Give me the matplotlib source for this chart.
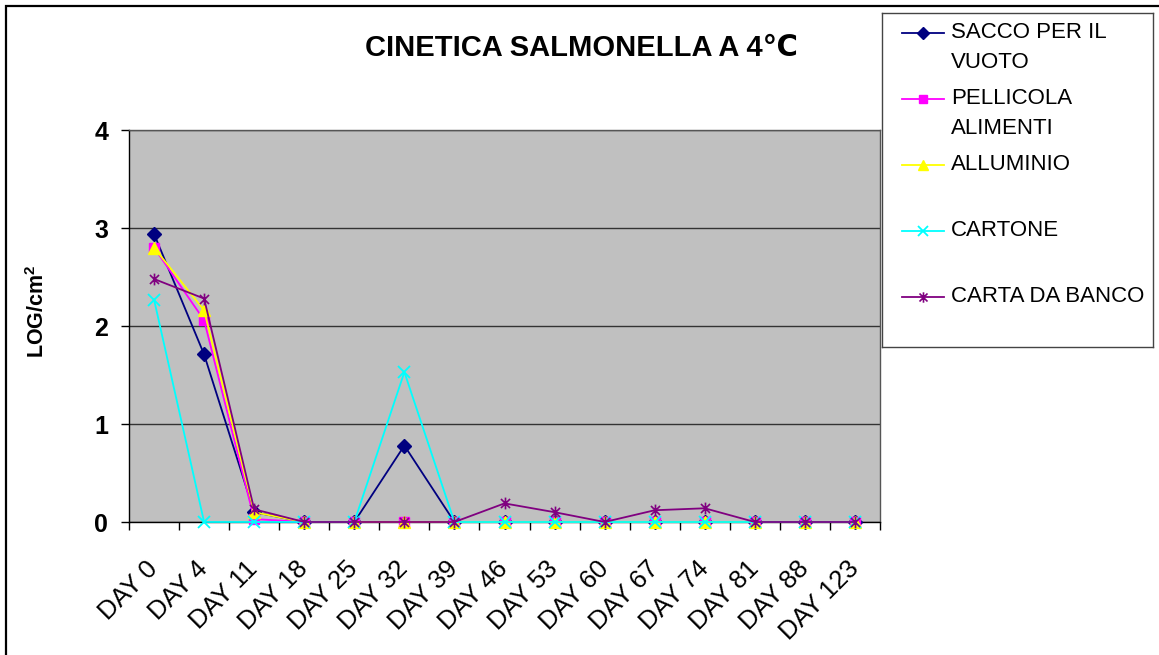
import numpy as np
import matplotlib
matplotlib.use("Agg")
import matplotlib.pyplot as plt
from matplotlib.path import Path
from matplotlib.lines import Line2D
from matplotlib.patches import Rectangle

plt.rcParams['font.family'] = ['Liberation Sans', 'DejaVu Sans']
plt.rcParams['mathtext.fontset'] = 'custom'
plt.rcParams['mathtext.rm'] = 'Liberation Sans'
plt.rcParams['mathtext.bf'] = 'Liberation Sans:bold'

days = ['DAY 0', 'DAY 4', 'DAY 11', 'DAY 18', 'DAY 25', 'DAY 32', 'DAY 39', 'DAY 46',
        'DAY 53', 'DAY 60', 'DAY 67', 'DAY 74', 'DAY 81', 'DAY 88', 'DAY 123']

sacco = [2.94, 1.71, 0.10, 0, 0, 0.78, 0, 0, 0, 0, 0, 0, 0, 0, 0]
pellicola = [2.80, 2.06, 0.03, 0, 0, 0, 0, 0, 0, 0, 0, 0, 0, 0, 0]
alluminio = [2.80, 2.16, 0.10, 0, 0, 0, 0, 0, 0, 0, 0, 0, 0, 0, 0]
cartone = [2.27, 0, 0, 0, 0, 1.53, 0, 0, 0, 0, 0, 0, 0, 0, 0]
carta = [2.48, 2.28, 0.13, 0, 0, 0, 0, 0.19, 0.10, 0, 0.12, 0.14, 0, 0, 0]

series_names = ['SACCO PER IL\nVUOTO', 'PELLICOLA\nALIMENTI', 'ALLUMINIO', 'CARTONE', 'CARTA DA BANCO']

# Excel-like asterisk: X plus a vertical bar
star = Path([(-1, -1), (1, 1), (-1, 1), (1, -1), (0, -1.3), (0, 1.3)],
            [Path.MOVETO, Path.LINETO, Path.MOVETO, Path.LINETO, Path.MOVETO, Path.LINETO])

styles = [
    dict(color='#000080', marker='D', ms=7),
    dict(color='#FF00FF', marker='s', ms=7),
    dict(color='#FFFF00', marker='^', ms=8.5),
    dict(color='#00FFFF', marker='x', ms=8.5, mew=1.3),
    dict(color='#800080', marker=star, ms=8.5, mew=1.2),
]

W, H = 1159, 655
fig = plt.figure(figsize=(W / 100, H / 100), dpi=100)

# outer chart frame
fig.add_artist(Rectangle((6 / W, -0.1), 1.2, 1.1 - 6 / H, transform=fig.transFigure,
                         fill=False, edgecolor='black', lw=1.6))

ax = fig.add_axes([129 / W, 1 - 522 / H, (880 - 129) / W, (522 - 130) / H])
ax.set_facecolor('#C0C0C0')

x = np.arange(len(days))
for vals, st in zip([sacco, pellicola, alluminio, cartone, carta], styles):
    ax.plot(x, vals, color=st['color'], marker=st['marker'], ms=st['ms'],
            mew=st.get('mew', 1), mfc=st['color'], mec=st['color'], lw=1.3,
            clip_on=False, zorder=3)

ax.set_xlim(-0.5, len(days) - 0.5)
ax.set_ylim(0, 4)
ax.set_yticks([0, 1, 2, 3, 4])
ax.grid(axis='y', color='#333333', lw=1)
ax.set_axisbelow(True)

ax.set_xticks(np.arange(-0.5, len(days), 1))
ax.set_xticklabels([])
ax.set_xticks(x, minor=True)
ax.set_xticklabels(days, minor=True, rotation=45, ha='right', va='center',
                   rotation_mode='anchor', fontsize=18.5)
ax.tick_params(axis='x', which='minor', length=0, pad=31)
ax.tick_params(axis='x', which='major', direction='out', length=6, width=1)
ax.tick_params(axis='y', direction='out', length=6, width=1, pad=9)
for lbl in ax.get_yticklabels():
    lbl.set_fontsize(18)
    lbl.set_fontweight('bold')

for s in ax.spines.values():
    s.set_color('black')
    s.set_linewidth(1)
ax.spines['top'].set_color('#555555')
ax.spines['right'].set_color('#555555')

ax.set_ylabel(r'LOG/cm$^\mathbf{2}$', fontsize=15.5, fontweight='bold')
ax.yaxis.set_label_coords(-0.106, 0.538)

fig.text(581 / W, 1 - 48 / H, 'CINETICA SALMONELLA A 4℃', ha='center', va='center',
         fontsize=21, fontweight='bold')

# legend drawn by hand to get Excel's spacing
lax = fig.add_axes([882 / W, 1 - 347 / H, 271 / W, 334 / H])
lax.set_xlim(0, 271)
lax.set_ylim(334, 0)
lax.set_xticks([])
lax.set_yticks([])
for s in lax.spines.values():
    s.set_color('#444444')
    s.set_linewidth(1)
for i, (name, st) in enumerate(zip(series_names, styles)):
    yy = 20 + 66 * i
    lax.add_line(Line2D([20, 62], [yy, yy], color=st['color'], lw=1.3))
    lax.plot([41], [yy], color=st['color'], marker=st['marker'], ms=st['ms'] - 1,
             mew=st.get('mew', 1), mfc=st['color'], mec=st['color'])
    for j, line in enumerate(name.split('\n')):
        lax.text(69, yy + 29 * j, line, ha='left', va='center', fontsize=16)

fig.savefig('out.png', dpi=100)
